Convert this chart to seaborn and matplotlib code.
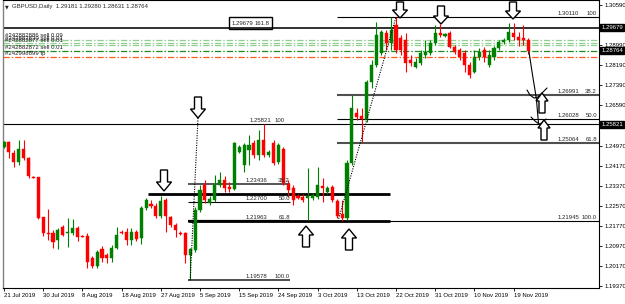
import matplotlib
matplotlib.use("Agg")
import matplotlib.pyplot as plt
import seaborn as sns
import pandas as pd
from matplotlib.patches import Polygon, Rectangle
from matplotlib.transforms import blended_transform_factory

# ---------------- data (GBPUSD daily) ----------------
opens = [1.2491, 1.2511, 1.2467, 1.2431, 1.2483, 1.2447, 1.2371, 1.2371, 1.2211, 1.2147,
         1.2147, 1.2119, 1.2171, 1.2147, 1.2147, 1.2167, 1.2135, 1.2135, 1.2047, 1.2015,
         1.2083, 1.2059, 1.2047, 1.2087, 1.2151, 1.2151, 1.2119, 1.2151, 1.2127, 1.2247,
         1.2263, 1.2255, 1.2215, 1.2279, 1.2211, 1.2179, 1.2147, 1.2147, 1.2059, 1.2079,
         1.2239, 1.2339, 1.2267, 1.2279, 1.2339, 1.2359, 1.2331, 1.2323, 1.2471, 1.2419,
         1.2479, 1.2507, 1.2459, 1.2519, 1.2459, 1.2507, 1.2431, 1.2483, 1.2343, 1.2327,
         1.2295, 1.2291, 1.2287, 1.2287, 1.2291, 1.2335, 1.2311, 1.2331, 1.2275, 1.2223,
         1.2207, 1.2427, 1.2627, 1.2615, 1.2599, 1.2751, 1.2819, 1.2867, 1.2947, 1.2907,
         1.2979, 1.2927, 1.2919, 1.2839, 1.2811, 1.2827, 1.2859, 1.2867, 1.2907, 1.2947,
         1.2935, 1.2947, 1.2891, 1.2879, 1.2867, 1.2819, 1.2791, 1.2851, 1.2879, 1.2819,
         1.2851, 1.2887, 1.2911, 1.2919, 1.2947, 1.2931, 1.2927, 1.29181]
highs = [1.2515, 1.2515, 1.2479, 1.2519, 1.2519, 1.2451, 1.2375, 1.2371, 1.2211, 1.2243,
         1.2159, 1.2167, 1.2179, 1.2207, 1.2203, 1.2175, 1.2139, 1.2147, 1.2055, 1.2079,
         1.2095, 1.2067, 1.2099, 1.2171, 1.2159, 1.2167, 1.2167, 1.2159, 1.2255, 1.2287,
         1.2279, 1.2267, 1.2295, 1.2287, 1.2215, 1.2187, 1.2155, 1.2151, 1.2087, 1.2251,
         1.2339, 1.2359, 1.2295, 1.2379, 1.2391, 1.2375, 1.2351, 1.2511, 1.2499, 1.2507,
         1.2539, 1.2519, 1.2559, 1.2582, 1.2479, 1.2519, 1.2507, 1.2491, 1.2359, 1.2339,
         1.2303, 1.2303, 1.2407, 1.2307, 1.2411, 1.2367, 1.2335, 1.2339, 1.2283, 1.2279,
         1.2439, 1.2699, 1.2647, 1.2647, 1.2759, 1.2839, 1.2991, 1.2959, 1.2959, 1.3011,
         1.3011, 1.2939, 1.2947, 1.2859, 1.2847, 1.2879, 1.2919, 1.2919, 1.2979, 1.2983,
         1.2947, 1.2955, 1.2899, 1.2887, 1.2879, 1.2831, 1.2879, 1.2887, 1.2891, 1.2879,
         1.2895, 1.2919, 1.2927, 1.2987, 1.2987, 1.2951, 1.2979, 1.29280]
lows = [1.2487, 1.2447, 1.2411, 1.2419, 1.2439, 1.2367, 1.2367, 1.2203, 1.2135, 1.2119,
        1.2087, 1.2083, 1.2135, 1.2091, 1.2139, 1.2115, 1.2131, 1.2007, 1.2007, 1.2007,
        1.2031, 1.2027, 1.2031, 1.2083, 1.2143, 1.2099, 1.2099, 1.2115, 1.2103, 1.2239,
        1.2247, 1.2207, 1.2207, 1.2151, 1.2171, 1.2131, 1.2139, 1.2027, 1.19578, 1.2071,
        1.2231, 1.2267, 1.2259, 1.2271, 1.2331, 1.2311, 1.2311, 1.2319, 1.2467, 1.2391,
        1.2419, 1.2447, 1.2439, 1.2451, 1.2451, 1.2419, 1.2423, 1.2339, 1.2291, 1.2259,
        1.2283, 1.2271, 1.2199, 1.2279, 1.2283, 1.2271, 1.2303, 1.2271, 1.2207, 1.2195,
        1.2199, 1.2419, 1.2599, 1.2511, 1.2591, 1.2727, 1.2811, 1.2859, 1.2879, 1.2879,
        1.2867, 1.2859, 1.2791, 1.2815, 1.2807, 1.2819, 1.2847, 1.2859, 1.2899, 1.2931,
        1.2931, 1.2887, 1.2863, 1.2839, 1.2791, 1.2767, 1.2787, 1.2839, 1.2831, 1.2811,
        1.2839, 1.2879, 1.2903, 1.2911, 1.2919, 1.2895, 1.2899, 1.28631]
closes = [1.2511, 1.2471, 1.2431, 1.2483, 1.2447, 1.2375, 1.2369, 1.2207, 1.2147, 1.2143,
          1.2111, 1.2159, 1.2139, 1.2151, 1.2167, 1.2131, 1.2133, 1.2031, 1.2015, 1.2071,
          1.2047, 1.2047, 1.2087, 1.2139, 1.2149, 1.2119, 1.2151, 1.2123, 1.2247, 1.2279,
          1.2255, 1.2215, 1.2275, 1.2215, 1.2179, 1.2159, 1.2145, 1.2059, 1.2083, 1.2239,
          1.2319, 1.2279, 1.2283, 1.2339, 1.2359, 1.2327, 1.2323, 1.2507, 1.2491, 1.2499,
          1.2499, 1.2459, 1.2519, 1.2459, 1.2471, 1.2427, 1.2499, 1.2347, 1.2319, 1.2279,
          1.2287, 1.2279, 1.2295, 1.2299, 1.2339, 1.2327, 1.2327, 1.2279, 1.2215, 1.2207,
          1.2427, 1.2647, 1.2611, 1.2603, 1.2751, 1.2819, 1.2939, 1.2951, 1.2907, 1.2959,
          1.2879, 1.2879, 1.2827, 1.2827, 1.2831, 1.2867, 1.2871, 1.2907, 1.2947, 1.2939,
          1.2943, 1.2891, 1.2871, 1.2851, 1.2819, 1.2779, 1.2851, 1.2871, 1.2851, 1.2859,
          1.2887, 1.2911, 1.2919, 1.2951, 1.2931, 1.2919, 1.2919, 1.28764]

date_labels = ["21 Jul 2019", "30 Jul 2019", "8 Aug 2019", "18 Aug 2019", "27 Aug 2019",
               "5 Sep 2019", "15 Sep 2019", "24 Sep 2019", "3 Oct 2019", "13 Oct 2019",
               "22 Oct 2019", "31 Oct 2019", "10 Nov 2019", "19 Nov 2019"]
date_label_bars = [0, 8, 16, 24, 32, 40, 48, 56, 64, 72, 80, 88, 96, 104]

price_ticks = [1.30590, 1.28990, 1.28190, 1.27390, 1.26590, 1.24970, 1.24170,
               1.23370, 1.22570, 1.21770, 1.20970, 1.20170, 1.19370]
highlight_prices = [1.29679, 1.28764, 1.25821]

left_fib_prices = [1.25821, 1.23436, 1.22700, 1.21963, 1.19578]
left_fib_levels = ["100", "38.2", "50.0", "61.8", "100.0"]
right_fib_prices = [1.30110, 1.26991, 1.26028, 1.25064, 1.21945]
right_fib_levels = ["100", "38.2", "50.0", "61.8", "100.0"]
ext_price, ext_level = 1.29679, "161.8"
support_prices = [1.2303, 1.2196]

order_prices = [1.2919, 1.2909, 1.2901, 1.2875, 1.2851]
order_labels = ["#242882886 sell 0.09", "#242882830 sell 0.01", "#242882877 sell 0.01",
                "#242882872 sell 0.01", "#242998899 tp"]
order_colors = ["#8fcf8f", "#8fcf8f", "#8fcf8f", "#1e8c1e", "#ff5a1e"]

symbol = "GBPUSD,Daily"

# ---------------- helpers (pixel geometry of the MT4 canvas) ----------------
BAR_PX = 4.9          # px per bar
PRICE_PX = 0.0004     # price per px
X0_PX = 4.0           # px of bar 0
P_TOP = 1.3079        # price at top of plot


def bx(px):
    return (px - X0_PX) / BAR_PX


def py(ypx):
    return P_TOP - PRICE_PX * ypx


FONT = "Liberation Sans"
FS = 4.3

sns.set_style("white")
plt.rcParams["font.family"] = [FONT, "DejaVu Sans"]

fig = plt.figure(figsize=(6.25, 3.04), dpi=100)
ax = fig.add_axes([3 / 625, 16 / 304, 596 / 625, 288 / 304])
ax.set_xlim(bx(3), bx(599))
ax.set_ylim(py(288), py(0))
ax.set_facecolor("white")

df = pd.DataFrame({"open": opens, "high": highs, "low": lows, "close": closes})
df["bar"] = range(len(df))
up = df["close"] >= df["open"]
cols = ["#008000" if u else "#ff0000" for u in up]

# wicks
ax.vlines(df["bar"], df["low"], df["high"], colors=cols, lw=0.8, zorder=3)
# bodies
body_bottom = df[["open", "close"]].min(axis=1)
body_h = (df["close"] - df["open"]).abs().clip(lower=0.00025)
ax.bar(df["bar"], body_h, bottom=body_bottom, width=0.64, color=cols,
       edgecolor=cols, linewidth=0.3, zorder=4)

# full-width horizontal lines
ax.axhline(highlight_prices[0], color="#202020", lw=1.3, zorder=2)
ax.axhline(highlight_prices[2], color="black", lw=0.8, zorder=2)

# order lines
for p, c in zip(order_prices, order_colors):
    ax.axhline(p, color=c, lw=0.9, ls=(0, (5, 1.6, 1.2, 1.6)), zorder=2)
lab_y = [py(35.5), py(38.5), py(41.0), py(47.5), py(53.5)]
for t, yv in zip(order_labels, lab_y):
    ax.text(bx(5), yv, t, fontsize=FS, color="#202020", va="center", ha="left", zorder=6)

# left fibonacci
lf_x0, lf_x1 = bx(188), bx(290)
lf_style = [(0.8, "black"), (1.4, "#555555"), (0.8, "black"), (1.6, "black"), (1.2, "#303030")]
for i, (p, lv) in enumerate(zip(left_fib_prices, left_fib_levels)):
    if i > 0:
        lw, c = lf_style[i]
        ax.hlines(p, lf_x0, lf_x1, colors=c, lw=lw, zorder=2)
    xs = bx(250) if i == 0 else bx(246)
    xe = bx(285) if i == 0 else bx(290)
    ax.text(xs, p + 0.0004, f"{p:.5f}", fontsize=FS, va="bottom", ha="left", zorder=6)
    ax.text(xe, p + 0.0004, lv, fontsize=FS, va="bottom", ha="right", zorder=6)

# right fibonacci
rf_x0, rf_x1 = bx(337), bx(599)
rf_style = [(0.8, "black"), (1.5, "#505050"), (0.8, "black"), (1.5, "#505050"), (0.8, "black")]
for i, (p, lv) in enumerate(zip(right_fib_prices, right_fib_levels)):
    lw, c = rf_style[i]
    ax.hlines(p, rf_x0, rf_x1, colors=c, lw=lw, zorder=2)
    ax.text(bx(558), p + 0.0004, f"{p:.5f}", fontsize=FS, va="bottom", ha="left", zorder=6)
    ax.text(bx(597), p + 0.0004, lv, fontsize=FS, va="bottom", ha="right", zorder=6)

# support lines (thick)
ax.hlines(support_prices[0], bx(148), bx(390), colors="black", lw=2.0, zorder=2)
ax.hlines(support_prices[1], bx(188), bx(390), colors="black", lw=2.0, zorder=2)

# boxed extension label
ax.add_patch(Rectangle((bx(229), py(28.5)), bx(272) - bx(229), py(17) - py(28.5),
                       fill=False, ec="black", lw=1.0, zorder=6))
ax.text(bx(232), ext_price + 0.0006, f"{ext_price:.5f}", fontsize=FS, va="bottom", ha="left", zorder=7)
ax.text(bx(270), ext_price + 0.0006, ext_level, fontsize=FS, va="bottom", ha="right", zorder=7)

# dotted fibonacci trend lines
dots = pd.DataFrame({"x": [38, bx(198)], "y": [left_fib_prices[4], py(118)]})
sns.lineplot(data=dots, x="x", y="y", ax=ax, color="black", lw=0.8, ls=(0, (1, 1.2)), sort=False, zorder=5)
dots2 = pd.DataFrame({"x": [bx(338), 80], "y": [right_fib_prices[4], right_fib_prices[0]]})
sns.lineplot(data=dots2, x="x", y="y", ax=ax, color="black", lw=0.8, ls=(0, (1, 1.2)), sort=False, zorder=5)

# hand-drawn projection
proj = pd.DataFrame({"x": [bx(p) for p in [529, 531, 533, 535, 536.5, 537.5, 538.5]],
                     "y": [py(v) for v in [52, 65, 78, 90, 100, 112, 123]]})
sns.lineplot(data=proj, x="x", y="y", ax=ax, color="black", lw=0.8, sort=False, zorder=5)
v1 = pd.DataFrame({"x": [bx(p) for p in [527, 530, 534, 538, 542, 547]],
                   "y": [py(v) for v in [90, 95, 98, 97, 93, 88]]})
sns.lineplot(data=v1, x="x", y="y", ax=ax, color="black", lw=0.8, sort=False, zorder=5)
v2 = pd.DataFrame({"x": [bx(p) for p in [531, 535, 539, 542, 546]],
                   "y": [py(v) for v in [117, 121, 124, 123, 119]]})
sns.lineplot(data=v2, x="x", y="y", ax=ax, color="black", lw=0.8, sort=False, zorder=5)


def arrow(xpx, tip_ypx, down, w=15, h=21, hh=9, sw=7):
    s = 1 if down else -1   # pixel y grows downward; a down arrow's body is above its tip
    pts_px = [(xpx, tip_ypx), (xpx - w / 2, tip_ypx - s * hh), (xpx - sw / 2, tip_ypx - s * hh),
              (xpx - sw / 2, tip_ypx - s * h), (xpx + sw / 2, tip_ypx - s * h),
              (xpx + sw / 2, tip_ypx - s * hh), (xpx + w / 2, tip_ypx - s * hh)]
    pts = [(bx(a), py(b)) for a, b in pts_px]
    ax.add_patch(Polygon(pts, closed=True, fc="white", ec="black", lw=1.0, zorder=8))


for xp, yp in [(198, 118), (164, 191)]:
    arrow(xp, yp, True)
for xp, yp, hgt in [(400, 18, 16), (441, 24, 18), (513, 19, 17)]:
    arrow(xp, yp, True, w=15, h=hgt, hh=8, sw=7)
for xp, yp in [(306, 226), (349, 229)]:
    arrow(xp, yp, False)
for xp, yp in [(542, 93), (544, 120)]:
    arrow(xp, yp, False, w=12, h=20, hh=8, sw=6)

# axes styling
for side in ["top", "bottom", "right"]:
    ax.spines[side].set_color("black")
    ax.spines[side].set_linewidth(0.8)
ax.spines["left"].set_color("#808080")
ax.spines["left"].set_linewidth(1.0)

ax.yaxis.tick_right()
ax.set_yticks(price_ticks)
ax.set_yticklabels([f"{p:.5f}" for p in price_ticks], fontsize=FS)
ax.set_xticks(date_label_bars)
ax.set_xticklabels(date_labels, fontsize=FS, ha="left")
ax.tick_params(axis="y", length=2.5, width=0.6, pad=1.2, colors="black", right=True, left=False)
ax.tick_params(axis="x", length=2, width=0.6, pad=1.5, colors="black", bottom=True)
ax.set_xlabel("")
ax.set_ylabel("")

tr = blended_transform_factory(ax.transAxes, ax.transData)
for p in highlight_prices:
    ax.text(1.004, p, f"{p:.5f}", transform=tr, fontsize=FS, color="white", ha="left", va="center",
            bbox=dict(boxstyle="square,pad=0.18", fc="black", ec="black"), clip_on=False, zorder=9)

# header
ax.text(bx(5), py(6.5), "\u25bc", fontsize=3.5, va="center", ha="left", family="DejaVu Sans", zorder=9)
ax.text(bx(12), py(6.5),
        f"{symbol}  {opens[-1]:.5f} {highs[-1]:.5f} {lows[-1]:.5f} {closes[-1]:.5f}",
        fontsize=FS, va="center", ha="left", zorder=9)

fig.savefig("out.png", dpi=100, facecolor="white")
